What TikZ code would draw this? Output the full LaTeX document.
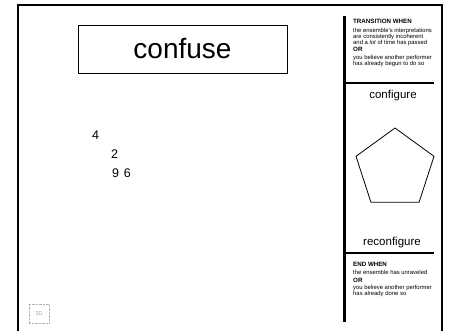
\documentclass[tikz,border=0pt]{standalone}
\usepackage{fontspec}
\setmainfont{Liberation Sans}
\usetikzlibrary{positioning, shapes.geometric}

\begin{document}
\begin{tikzpicture}[x=1pt, y=-1pt,
	headtext/.style={anchor=base west, inner sep=0pt, font=\fontsize{6.2}{6}\bfseries},
	smalltext/.style={anchor=base west, inner sep=0pt, font=\fontsize{5.9}{6}\selectfont},
	digit/.style={font=\fontsize{12.5}{14}\selectfont},
	label/.style={font=\fontsize{11.5}{13}\selectfont}]
	\useasboundingbox (0,0) rectangle (449,330);
	% card frame and side panel
	\draw[line width=2pt] (18,331) -- (18,5) -- (442,5) -- (442,331);
	\draw[line width=3pt] (344,16) -- (344,322);
	\draw[line width=1.2pt] (344,83) -- (434,83);
	\draw[line width=1.2pt] (344,253) -- (434,253);
	\node[rectangle, text centered, draw=black, line width=0.8pt, minimum width=209pt, minimum height=48pt, font=\fontsize{28}{30}\selectfont] (title) at (182.5,49) {confuse};
	\node[digit] (four) at (95.5,135.5) {4};
	\node[digit] (two) at (114.5,154.5) {2};
	\node[digit] (ninesix) at (121.5,173) {9\hspace{1.5pt} 6};
	% transition rule
	\node[headtext] (transhead) at (353,23) {TRANSITION WHEN};
	\node[smalltext] (transa) at (353,32.5) {the ensemble's interpretations};
	\node[smalltext] (transb) at (353,38.5) {are consistently incoherent};
	\node[smalltext] (transc) at (353,44.5) {and a \textit{lot} of time has passed};
	\node[headtext] (transor) at (353,51.5) {OR};
	\node[smalltext] (transd) at (353,59) {you believe another performer};
	\node[smalltext] (transe) at (353,65) {has already begun to \textit{do} so};
	% the shape
	\node[label] (configure) at (393,96) {configure};
	\node[regular polygon, regular polygon sides=5, draw=black, line width=0.8pt, minimum size=82pt, inner sep=0pt] (shape) at (395,169) {};
	\node[label] (reconfigure) at (392,243) {reconfigure};
	% end rule
	\node[headtext] (endhead) at (353,266) {END WHEN};
	\node[smalltext] (enda) at (353,274.5) {the ensemble has unraveled};
	\node[headtext] (endor) at (353,282) {OR};
	\node[smalltext] (endb) at (353,289.5) {you believe another performer};
	\node[smalltext] (endc) at (353,295.5) {has already done so};
	\node[rectangle, draw=gray!60, densely dotted, minimum width=20pt, minimum height=19pt, text=gray!70, font=\fontsize{5.5}{6}\selectfont] (badge) at (39,313.5) {3D};
\end{tikzpicture}
\end{document}
